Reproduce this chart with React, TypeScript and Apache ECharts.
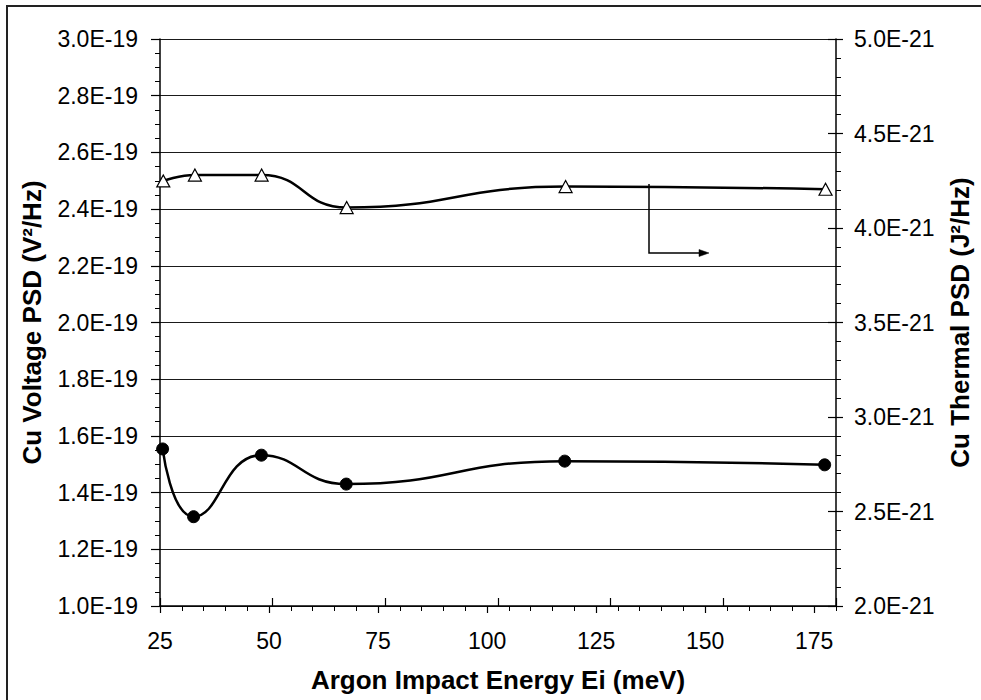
import React, { useEffect, useRef } from "react";
import * as echarts from "echarts";

// Argon impact energy Ei (meV)
const energyCircles = [25.6, 32.7, 48.25, 67.7, 117.8, 177.4];
// Cu voltage PSD, in units of 1E-19 V²/Hz
const voltagePsd = [1.554, 1.315, 1.532, 1.43, 1.511, 1.498];

const energyTriangles = [25.75, 33.0, 48.3, 67.8, 118.0, 177.6];
// Cu thermal PSD, in units of 1E-21 J²/Hz
const thermalPsd = [4.249, 4.28, 4.28, 4.108, 4.219, 4.205];

const FONT = "'Liberation Sans', Arial, sans-serif";
const TICK_FONT = 23;
const TITLE_FONT = 26;

export default function App() {
  const ref = useRef<HTMLDivElement>(null);
  useEffect(() => {
    if (!ref.current) return;
    const chart = echarts.init(ref.current, undefined, { renderer: "svg" });
    const black = "#000";
    const hiddenAxisCommon = {
      axisLine: { show: false },
      axisLabel: { show: false },
      splitLine: { show: false },
    };
    chart.setOption({
      animation: false,
      backgroundColor: "#fff",
      textStyle: { fontFamily: FONT },
      grid: { left: 160, right: 140, top: 39, bottom: 94, containLabel: false },
      xAxis: [
        {
          type: "value",
          min: 25,
          max: 180,
          interval: 25,
          position: "bottom",
          name: "Argon Impact Energy Ei (meV)",
          nameLocation: "middle",
          nameGap: 61,
          nameTextStyle: { fontFamily: FONT, fontSize: TITLE_FONT, fontWeight: "bold", color: black },
          axisLine: { show: true, onZero: false, lineStyle: { color: black, width: 1.5 } },
          axisTick: { show: true, inside: false, length: 7, lineStyle: { color: black, width: 1.2 } },
          axisLabel: { show: true, margin: 23, fontSize: TICK_FONT, color: black, fontFamily: FONT, showMaxLabel: false },
          splitLine: { show: false },
        },
        {
          type: "value",
          min: 25,
          max: 180,
          interval: 5,
          position: "bottom",
          ...hiddenAxisCommon,
          axisTick: { show: true, inside: false, length: 5, lineStyle: { color: black, width: 1 } },
        },
        {
          type: "value",
          min: 25,
          max: 175,
          interval: 25,
          position: "bottom",
          ...hiddenAxisCommon,
          axisTick: { show: true, inside: true, length: 8, lineStyle: { color: black, width: 1.2 } },
        },
      ],
      yAxis: [
        {
          type: "value",
          min: 1.0,
          max: 3.0,
          interval: 0.2,
          position: "left",
          name: "Cu Voltage PSD (V²/Hz)",
          nameLocation: "middle",
          nameGap: 115,
          nameTextStyle: { fontFamily: FONT, fontSize: TITLE_FONT, fontWeight: "bold", color: black },
          axisLine: { show: true, onZero: false, lineStyle: { color: black, width: 1.5 } },
          axisTick: { show: true, inside: false, length: 9, lineStyle: { color: black, width: 1.2 } },
          minorTick: { show: true, splitNumber: 4, length: 5, lineStyle: { color: black, width: 1 } },
          axisLabel: {
            show: true,
            margin: 22,
            fontSize: TICK_FONT,
            color: black,
            fontFamily: FONT,
            formatter: (v: number) => v.toFixed(1) + "E-19",
          },
          splitLine: { show: true, lineStyle: { color: "#1a1a1a", width: 1 } },
        },
        {
          type: "value",
          min: 2.0,
          max: 5.0,
          interval: 0.5,
          position: "right",
          name: "Cu Thermal PSD (J²/Hz)",
          nameLocation: "middle",
          nameGap: 111,
          nameRotate: 90,
          nameTextStyle: { fontFamily: FONT, fontSize: TITLE_FONT, fontWeight: "bold", color: black },
          axisLine: { show: true, onZero: false, lineStyle: { color: black, width: 1.5 } },
          axisTick: { show: true, inside: false, length: 7, lineStyle: { color: black, width: 1.2 } },
          minorTick: { show: true, splitNumber: 5, length: 5, lineStyle: { color: black, width: 1 } },
          axisLabel: {
            show: true,
            margin: 18,
            fontSize: TICK_FONT,
            color: black,
            fontFamily: FONT,
            formatter: (v: number) => v.toFixed(1) + "E-21",
          },
          splitLine: { show: false },
        },
        {
          type: "value",
          min: 2.0,
          max: 5.0,
          interval: 0.5,
          position: "right",
          ...hiddenAxisCommon,
          axisTick: { show: true, inside: true, length: 8, lineStyle: { color: black, width: 1.2 } },
        },
      ],
      graphic: [
        {
          type: "rect",
          shape: { x: 7, y: 6, width: 1000, height: 720 },
          style: { fill: "none", stroke: "#222", lineWidth: 2 },
          silent: true,
        },
        {
          type: "polyline",
          shape: { points: [[649, 184], [649, 253], [702, 253]] },
          style: { fill: "none", stroke: black, lineWidth: 1.5 },
          z: 10,
        },
        {
          type: "polygon",
          shape: { points: [[699, 249.5], [709, 253], [699, 256.5]] },
          style: { fill: black, stroke: black, lineWidth: 0.5 },
          z: 10,
        },
      ],
      series: [
        {
          type: "line",
          name: "Voltage PSD",
          xAxisIndex: 0,
          yAxisIndex: 0,
          smooth: 0.5,
          data: energyCircles.map((x, i) => [x, voltagePsd[i]]),
          symbol: "circle",
          symbolSize: 12,
          itemStyle: { color: black, borderColor: black },
          lineStyle: { color: black, width: 2.5 },
          z: 5,
        },
        {
          type: "line",
          name: "Thermal PSD",
          xAxisIndex: 0,
          yAxisIndex: 1,
          smooth: 0.5,
          data: energyTriangles.map((x, i) => [x, thermalPsd[i]]),
          symbol: "triangle",
          symbolSize: [13, 12],
          itemStyle: { color: "#fff", borderColor: black, borderWidth: 1.2 },
          lineStyle: { color: black, width: 2.5 },
          z: 5,
        },
      ],
    });
    return () => chart.dispose();
  }, []);
  return (
    <div
      ref={ref}
      style={{ position: "fixed", left: 0, top: 0, width: 981, height: 700, background: "#fff" }}
    />
  );
}
